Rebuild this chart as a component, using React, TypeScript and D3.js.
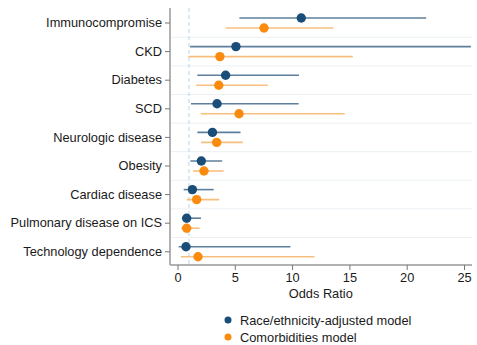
import React, { useRef, useEffect } from "react";
import * as d3 from "d3";

const categories = [
  "Immunocompromise",
  "CKD",
  "Diabetes",
  "SCD",
  "Neurologic disease",
  "Obesity",
  "Cardiac disease",
  "Pulmonary disease on ICS",
  "Technology dependence",
];

// Race/ethnicity-adjusted model
const raceOR = [10.8, 5.1, 4.2, 3.45, 3.05, 2.08, 1.3, 0.8, 0.74];
const raceLow = [5.4, 1.1, 1.73, 1.18, 1.73, 1.12, 0.54, 0.39, 0.1];
const raceHigh = [21.7, 25.6, 10.6, 10.57, 5.5, 3.9, 3.16, 2.05, 9.85];

// Comorbidities model
const comorbOR = [7.55, 3.7, 3.6, 5.37, 3.42, 2.31, 1.67, 0.8, 1.79];
const comorbLow = [4.2, 0.95, 1.64, 2.02, 2.05, 1.35, 0.8, 0.33, 0.3];
const comorbHigh = [13.6, 15.3, 7.87, 14.6, 5.7, 4.03, 3.65, 1.93, 11.95];

const xTicks = [0, 5, 10, 15, 20, 25];
const legendLabels = ["Race/ethnicity-adjusted model", "Comorbidities model"];

const App = () => {
  const svgRef = useRef<SVGSVGElement>(null);

  useEffect(() => {
    const svg = d3.select(svgRef.current);
    svg.selectAll("*").remove();
    const width = 477;
    const height = 345;
    const font = "'Liberation Sans', Arial, sans-serif";
    const fs = 12.8;
    svg.attr("width", width).attr("height", height);

    const axisX = 170;
    const axisY = 265;
    const top = 8;

    const x = d3.scaleLinear().domain([0, 25]).range([177.5, 464]);
    const y = d3.scaleBand().domain(categories).range([8.7, 266.1]).padding(0);
    const yc = (c: string) => (y(c) as number) + y.bandwidth() / 2;

    // row separators
    svg
      .selectAll(".sep")
      .data(categories.slice(1))
      .enter()
      .append("line")
      .attr("x1", axisX + 1)
      .attr("x2", 472)
      .attr("y1", (d) => y(d) as number)
      .attr("y2", (d) => y(d) as number)
      .attr("stroke", "#eaf0f4")
      .attr("stroke-width", 1);

    // reference line at OR = 1
    svg
      .append("line")
      .attr("x1", x(1))
      .attr("x2", x(1))
      .attr("y1", top)
      .attr("y2", axisY)
      .attr("stroke", "#c4dde9")
      .attr("stroke-width", 1.2)
      .attr("stroke-dasharray", "4,3");

    const series = [
      { or: raceOR, lo: raceLow, hi: raceHigh, dy: -5, dot: "#1a4e78", line: "#5d7f9d" },
      { or: comorbOR, lo: comorbLow, hi: comorbHigh, dy: 5, dot: "#fb8b0f", line: "#f7bf7e" },
    ];

    series.forEach((s, si) => {
      const g = svg.append("g").attr("class", "series" + si);
      g.selectAll("line")
        .data(categories)
        .enter()
        .append("line")
        .attr("x1", (d, i) => x(s.lo[i]))
        .attr("x2", (d, i) => x(s.hi[i]))
        .attr("y1", (d) => yc(d) + s.dy)
        .attr("y2", (d) => yc(d) + s.dy)
        .attr("stroke", s.line)
        .attr("stroke-width", 1.6);
      g.selectAll("circle")
        .data(categories)
        .enter()
        .append("circle")
        .attr("cx", (d, i) => x(s.or[i]))
        .attr("cy", (d) => yc(d) + s.dy)
        .attr("r", 4.7)
        .attr("fill", s.dot);
    });

    // y axis
    const yAxis = svg
      .append("g")
      .attr("transform", `translate(${axisX},0)`)
      .call(d3.axisLeft(y).tickSize(5).tickPadding(3));
    yAxis.select(".domain").attr("d", `M0,${top}V${axisY}`).attr("stroke", "#999").attr("stroke-width", 1.5);
    yAxis.selectAll(".tick line").attr("stroke", "#777");
    yAxis
      .selectAll(".tick text")
      .attr("font-family", font)
      .attr("font-size", fs)
      .attr("fill", "#1a1a1a");

    // x axis
    const xAxis = svg
      .append("g")
      .attr("transform", `translate(0,${axisY})`)
      .call(d3.axisBottom(x).tickValues(xTicks).tickSize(5).tickPadding(3));
    xAxis.select(".domain").attr("d", `M${axisX},0H472`).attr("stroke", "#999").attr("stroke-width", 1.5);
    xAxis.selectAll(".tick line").attr("stroke", "#777");
    xAxis
      .selectAll(".tick text")
      .attr("font-family", font)
      .attr("font-size", fs)
      .attr("fill", "#1a1a1a");

    svg
      .append("text")
      .attr("x", x(12.5))
      .attr("y", 298)
      .attr("text-anchor", "middle")
      .attr("font-family", font)
      .attr("font-size", fs)
      .attr("fill", "#1a1a1a")
      .text("Odds Ratio");

    // legend
    const legend = svg
      .selectAll(".legend")
      .data(legendLabels)
      .enter()
      .append("g")
      .attr("transform", (d, i) => `translate(228,${320 + i * 17})`);
    legend
      .append("circle")
      .attr("r", 3.5)
      .attr("fill", (d, i) => series[i].dot);
    legend
      .append("text")
      .attr("x", 12)
      .attr("y", 4.5)
      .attr("font-family", font)
      .attr("font-size", fs)
      .attr("fill", "#1a1a1a")
      .text((d) => d);
  }, []);

  return <svg ref={svgRef} style={{ position: "absolute", left: 0, top: 0 }}></svg>;
};

export default App;
